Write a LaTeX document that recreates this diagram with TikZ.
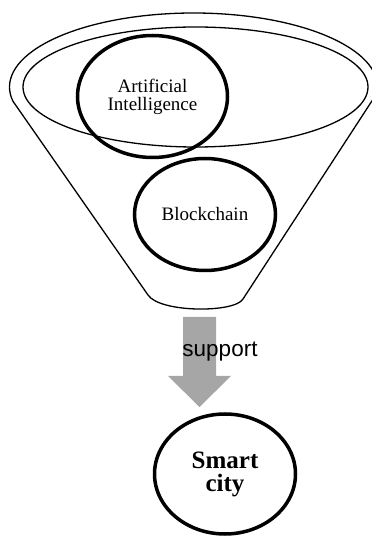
\documentclass[tikz,border=0pt]{standalone}
\usepackage{fontspec}
\setmainfont{Liberation Serif}
\newfontfamily\supportfont{Liberation Sans}
\usetikzlibrary{shapes.geometric,calc}
\definecolor{arrowgray}{RGB}{166,166,166}
\tikzset{
  funnel/.style={line width=1.3pt, line join=round},
  topic/.style={ellipse, draw, line width=3.5pt, inner sep=0pt, align=center,
    font=\fontsize{19}{18}\selectfont},
}

\begin{document}
\begin{tikzpicture}[x=1pt, y=1pt]
\useasboundingbox (0,0) rectangle (372,536);

% funnel: rim, two sides and the rounded spout
\coordinate (rim) at (193.5,449);
\coordinate (rimL) at ($(rim)+(191:184 and 74)$);
\coordinate (rimR) at ($(rim)+(-5:184 and 74)$);
\draw[funnel] (rimL) -- (148,241)
  .. controls (160,223) and (235,223) .. (243,237)
  -- (rimR) arc[start angle=-5, end angle=191, x radius=184, y radius=74];

% inner opening
\coordinate (mouth) at (195.5,449);
\draw[funnel] (mouth) ellipse[x radius=172.5, y radius=60];

\node[topic, minimum width=150pt, minimum height=122pt] (ai) at (152.5,439.5)
  {Artificial\\Intelligence};
\node[topic, minimum width=141pt, minimum height=112pt] (chain) at (205,321.5)
  {Blockchain};

% big grey arrow down to the city
\coordinate (flow) at (199.5,219);
\fill[arrowgray] ($(flow)+(-16.5,0)$) -- ($(flow)+(16.5,0)$) -- ($(flow)+(16.5,-59)$)
  -- ($(flow)+(31.5,-59)$) -- ($(flow)+(0,-90)$) -- ($(flow)+(-31.5,-59)$)
  -- ($(flow)+(-16.5,-59)$) -- cycle;
\node[anchor=base, inner sep=0pt, font=\supportfont\fontsize{22.5}{24}\selectfont]
  (support) at (220,179) {support};

\node[topic, minimum width=141pt, minimum height=120pt,
  font=\bfseries\fontsize{25}{23}\selectfont] (city) at (225,62) {Smart\\city};

\end{tikzpicture}
\end{document}
